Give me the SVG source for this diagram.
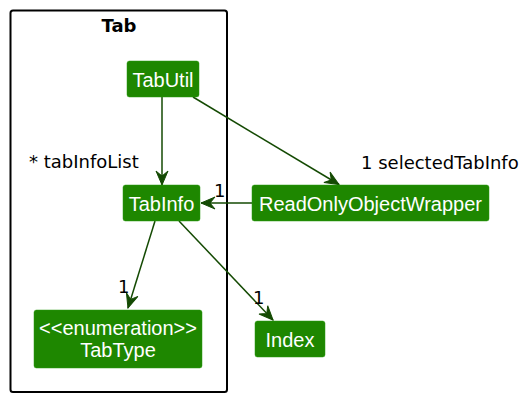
<svg xmlns="http://www.w3.org/2000/svg" width="529" height="400" viewBox="0 0 529 400">
<style>
.node rect{fill:#1e8700;stroke:#2a9a10;stroke-width:0.5}
.node text{font-family:"Liberation Sans",Arial,sans-serif;font-size:20px;fill:#ffffff;text-anchor:middle}
.edge{stroke:#144a03;stroke-width:1.5;fill:none}
.lbl{font-family:"DejaVu Sans",sans-serif;font-size:18px;fill:#000000}
</style>
<defs>
<marker id="arr" viewBox="-16 -8 17 16" refX="0" refY="0" markerWidth="17" markerHeight="16" markerUnits="userSpaceOnUse" orient="auto">
<path d="M0,0 L-14,-6 L-9,0 L-14,6 Z" fill="#144a03" stroke="#144a03" stroke-width="1"/>
</marker>
</defs>
<g id="Tab">
<rect x="10.5" y="10.5" width="216.5" height="381.5" rx="2.5" fill="none" stroke="#000000" stroke-width="2"/>
<text x="119" y="32" font-family="DejaVu Sans,sans-serif" font-size="18" font-weight="bold" text-anchor="middle">Tab</text>
</g>
<g id="connectors">
<line class="edge" x1="162" y1="97" x2="162" y2="185" marker-end="url(#arr)"/>
<line class="edge" x1="193" y1="97" x2="339" y2="184.5" marker-end="url(#arr)"/>
<line class="edge" x1="252" y1="203" x2="201" y2="203" marker-end="url(#arr)"/>
<line class="edge" x1="155" y1="221" x2="128" y2="308" marker-end="url(#arr)"/>
<line class="edge" x1="179" y1="221" x2="273" y2="320" marker-end="url(#arr)"/>
<text class="lbl" x="29" y="168">* tabInfoList</text>
<text class="lbl" x="361" y="169">1 selectedTabInfo</text>
<text class="lbl" x="214" y="197">1</text>
<text class="lbl" x="118" y="293">1</text>
<text class="lbl" x="253" y="304">1</text>
</g>
<g id="TabUtil" class="node">
<rect x="127" y="61" width="72" height="36" rx="2.5"/>
<text x="163" y="87">TabUtil</text>
</g>
<g id="TabInfo" class="node">
<rect x="123" y="185" width="77" height="36" rx="2.5"/>
<text x="161.5" y="211">TabInfo</text>
</g>
<g id="ReadOnlyObjectWrapper" class="node">
<rect x="252" y="185" width="237" height="36" rx="2.5"/>
<text x="370.5" y="210.5">ReadOnlyObjectWrapper</text>
</g>
<g id="TabType" class="node">
<rect x="34" y="310" width="168" height="58" rx="2.5"/>
<text x="118" y="335">&lt;&lt;enumeration&gt;&gt;</text>
<text x="118" y="357">TabType</text>
</g>
<g id="Index" class="node">
<rect x="255" y="321" width="70" height="36" rx="2.5"/>
<text x="290" y="347">Index</text>
</g>
</svg>
